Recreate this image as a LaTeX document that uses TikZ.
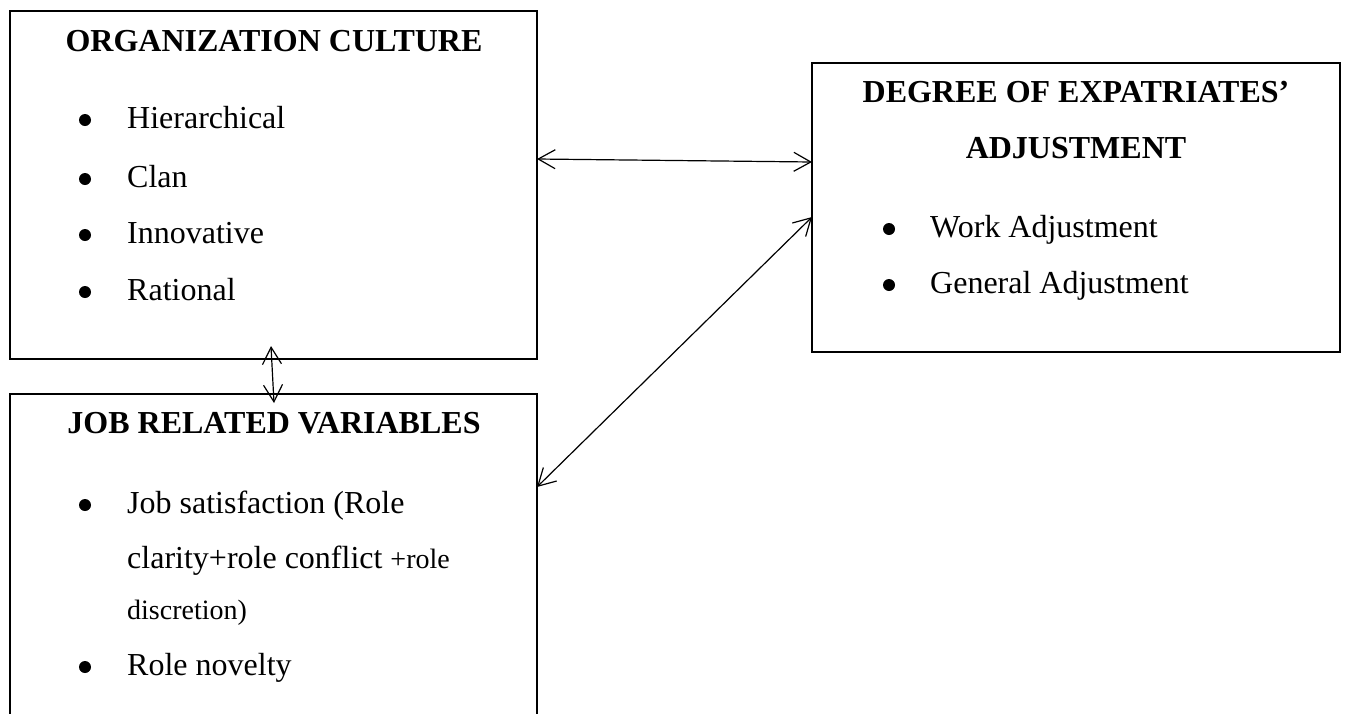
\documentclass[tikz,border=0pt]{standalone}
\usepackage{fontspec}
\setmainfont{Liberation Serif}
\usetikzlibrary{arrows.meta}
\tikzset{
  box/.style={draw, line width=2pt, rectangle, inner sep=0pt, outer sep=0pt, anchor=north west},
  ttl/.style={font=\bfseries\fontsize{32}{38}\selectfont, anchor=base, inner sep=0pt},
  item/.style={font=\fontsize{32}{38}\selectfont, anchor=base west, inner sep=0pt},
  small/.style={font=\fontsize{28}{32}\selectfont, anchor=base west, inner sep=0pt},
  bul/.style={circle, fill=black, draw=none, minimum size=12pt, inner sep=0pt},
  link/.style={{Straight Barb[length=17pt,width=19pt]}-{Straight Barb[length=17pt,width=19pt]}, line width=1.2pt}
}
\begin{document}
\begin{tikzpicture}[x=1pt,y=-1pt]
\clip (0,0) rectangle (1346,713);
\fill[white] (0,0) rectangle (1346,713);
% boxes
\node[box, minimum width=527pt, minimum height=348pt] (oc) at (10,11) {};
\node[box, minimum width=527pt, minimum height=370pt] (jrv) at (10,394) {};
\node[box, minimum width=528pt, minimum height=289pt] (dea) at (812,63) {};
% organization culture
\node[ttl] (oct) at (274,51) {ORGANIZATION CULTURE};
\node[bul] (ocb1) at (85,120) {};
\node[item] (oci1) at (127,128) {Hierarchical};
\node[bul] (ocb2) at (85,179) {};
\node[item] (oci2) at (127,187) {Clan};
\node[bul] (ocb3) at (85,235) {};
\node[item] (oci3) at (127,243) {Innovative};
\node[bul] (ocb4) at (85,292) {};
\node[item] (oci4) at (127,300) {Rational};
% job related variables
\node[ttl] (jrvt) at (274,433) {JOB RELATED VARIABLES};
\node[bul] (jrvb1) at (85,505) {};
\node[item] (jrvi1) at (127,513) {Job satisfaction (Role};
\node[item] (jrvi2) at (127,568) {clarity+role conflict {\fontsize{28}{32}\selectfont+role}};
\node[small] (jrvi3) at (127,619) {discretion)};
\node[bul] (jrvb2) at (85,667) {};
\node[item] (jrvi4) at (127,675) {Role novelty};
% degree of adjustment
\node[ttl] (deat1) at (1076,102) {DEGREE OF EXPATRIATES’};
\node[ttl] (deat2) at (1076,158) {ADJUSTMENT};
\node[bul] (deab1) at (889,229) {};
\node[item] (deai1) at (930,237) {Work Adjustment};
\node[bul] (deab2) at (889,285) {};
\node[item] (deai2) at (930,293) {General Adjustment};
% connectors
\draw[link] ([yshift=26pt]oc.east) -- ([yshift=45.5pt]dea.west);
\draw[link] ([xshift=-2.5pt,yshift=13pt]oc.south) -- ([xshift=0.5pt,yshift=-9pt]jrv.north);
\draw[link] ([yshift=-93pt]jrv.north east) -- ([yshift=-9.5pt]dea.west);
\end{tikzpicture}
\end{document}
